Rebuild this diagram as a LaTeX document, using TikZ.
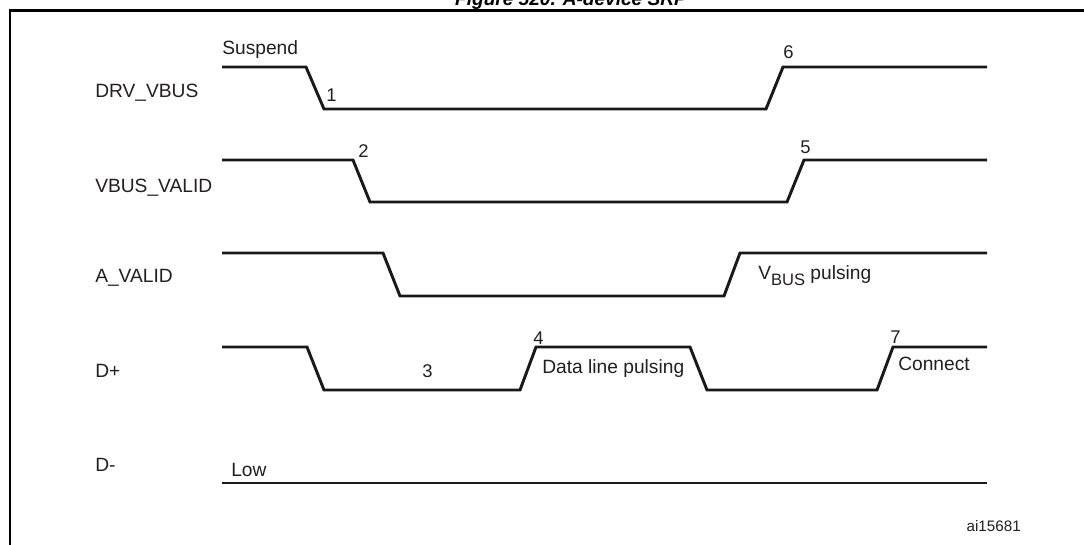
\documentclass[tikz,border=0pt]{standalone}
\usepackage{fontspec}
\setmainfont{Liberation Sans}
\definecolor{txt}{HTML}{231F20}
\begin{document}
\begin{tikzpicture}[x=0.75pt,y=-0.75pt,
  sig/.style={line width=2.2pt, line join=miter, line cap=butt, color=black!90},
  frame/.style={line width=1.9pt, color=black},
  lbl/.style={anchor=base west, inner sep=0pt, text=txt, font=\fontsize{14.4}{17}\selectfont},
  num/.style={anchor=base west, inner sep=0pt, text=txt, font=\fontsize{13.8}{16}\selectfont},
  idlbl/.style={anchor=base east, inner sep=0pt, text=txt, font=\fontsize{11.4}{13}\selectfont},
  ttl/.style={anchor=base, inner sep=0pt, text=black, font=\bfseries\itshape\fontsize{14.3}{17}\selectfont}]
\useasboundingbox (0,0) rectangle (1084,544);
\clip (0,0) rectangle (1084,544);
\fill[white] (0,0) rectangle (1084,544);

% title (cut off by the top edge) and frame
\node[ttl] (title) at (571,5) {Figure 520. A-device SRP};
\draw[frame] (10,560) -- (10,10.5) -- (1100,10.5);

% signal names
\node[lbl] (nDRV) at (95,97) {DRV\_VBUS};
\node[lbl] (nVBV) at (95,192) {VBUS\_VALID};
\node[lbl] (nAV)  at (95,282) {A\_VALID};
\node[lbl] (nDP)  at (95,377) {D+};
\node[lbl] (nDM)  at (95,471) {D-};

% waveforms
\draw[sig] (222,67) -- (306,67) -- (324,109) -- (766,109) -- (783,67) -- (987,67);
\draw[sig] (222,160) -- (353,160) -- (370,202) -- (787,202) -- (804,160) -- (987,160);
\draw[sig] (222,253) -- (383,253) -- (400,296) -- (724,296) -- (740,253) -- (987,253);
\draw[sig] (222,347) -- (307,347) -- (324,390) -- (520,390) -- (536,347) -- (690,347)
           -- (707,390) -- (877,390) -- (893,347) -- (987,347);
\draw[sig] (222,483) -- (987,483);

% annotations
\node[lbl] (tSusp) at (222,54) {Suspend};
\node[num] (t1) at (326,101) {1};
\node[num] (t6) at (783,58) {6};
\node[num] (t2) at (358,157) {2};
\node[num] (t5) at (800,153) {5};
\node[lbl] (tVbus) at (758,279) {V\raisebox{-4.5pt}{\fontsize{12.4}{14}\selectfont BUS} pulsing};
\node[num] (t4) at (533,344) {4};
\node[num] (t3) at (422,377) {3};
\node[lbl] (tData) at (542,373) {Data line pulsing};
\node[num] (t7) at (890,343) {7};
\node[lbl] (tConn) at (898,370) {Connect};
\node[lbl] (tLow) at (231,476) {Low};
\node[idlbl] (tId) at (1021,531) {ai15681};
\end{tikzpicture}
\end{document}
